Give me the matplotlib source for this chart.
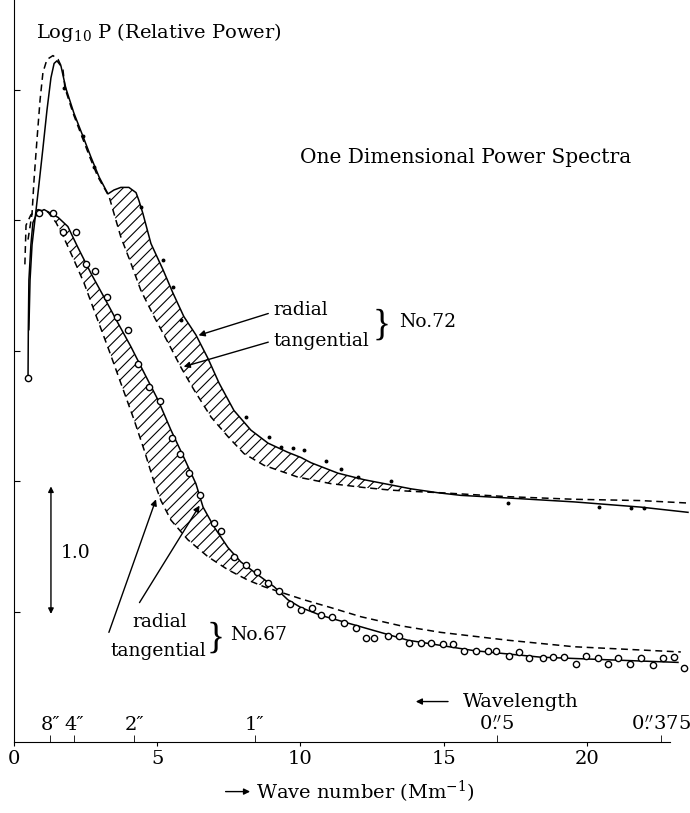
import numpy as np
import matplotlib
matplotlib.use('Agg')
import matplotlib.pyplot as plt

plt.rcParams['font.family'] = ['DejaVu Serif']
plt.rcParams['mathtext.fontset'] = 'dejavuserif'
plt.rcParams['hatch.linewidth'] = 0.8

# ---- No.72 ----
# radial (solid)
k72_rad = [0.52, 0.56, 0.63, 0.73, 0.87, 1.01, 1.15, 1.29, 1.40, 1.50, 1.64, 1.81,
           2.09, 2.41, 2.69, 2.97, 3.28, 3.49, 3.73, 4.01, 4.26, 4.36, 4.50, 4.78,
           5.20, 5.55, 5.93, 6.35, 6.77, 7.16, 7.68, 8.27, 8.87, 9.56, 10.02, 10.37,
           11.31, 12.22, 13.16, 13.86, 14.80, 15.60, 17.24, 19.55, 21.88, 23.53]
p72_rad = [3.16, 3.54, 3.81, 4.00, 4.27, 4.55, 4.84, 5.09, 5.20, 5.22, 5.18, 5.01,
           4.82, 4.64, 4.48, 4.33, 4.20, 4.23, 4.25, 4.25, 4.21, 4.15, 4.05, 3.82,
           3.62, 3.44, 3.26, 3.12, 2.94, 2.75, 2.54, 2.39, 2.29, 2.22, 2.18, 2.14,
           2.06, 2.01, 1.97, 1.94, 1.91, 1.89, 1.87, 1.84, 1.80, 1.76]
# radial points (small dots)
k72_pts = [1.75, 2.41, 2.79, 4.43, 5.20, 5.55, 5.83, 8.10, 8.90, 9.32, 9.74, 10.12,
           10.89, 11.41, 12.01, 13.16, 17.24, 20.42, 21.54, 21.99]
p72_pts = [5.01, 4.64, 4.41, 4.10, 3.69, 3.49, 3.23, 2.49, 2.34, 2.26, 2.25, 2.24,
           2.15, 2.09, 2.03, 2.00, 1.83, 1.80, 1.79, 1.79]
# tangential (dashed)
k72_tan = [0.49, 0.63, 0.70, 0.80, 0.91, 1.01, 1.15, 1.36, 1.54, 1.71, 1.78, 2.06,
           2.37, 2.65, 2.93, 3.32, 3.49, 3.73, 4.08, 4.43, 4.89, 5.38, 5.83, 6.28,
           6.88, 7.47, 8.03, 8.73, 9.91, 11.06, 12.22, 13.16, 13.96, 14.90, 17.24,
           19.55, 21.88, 23.63]
p72_tan = [3.85, 4.05, 4.31, 4.61, 4.92, 5.13, 5.23, 5.26, 5.23, 5.15, 5.01, 4.82,
           4.64, 4.48, 4.33, 4.18, 4.05, 3.87, 3.67, 3.46, 3.26, 3.06, 2.87, 2.70,
           2.49, 2.34, 2.21, 2.12, 2.03, 1.98, 1.95, 1.93, 1.92, 1.91, 1.88,
           1.86, 1.85, 1.83]

# ---- No.67 ----
# radial (solid line + open circles)
k67_rad = [0.49, 0.50, 0.52, 0.59, 0.66, 0.80, 1.05, 1.54, 1.88, 2.23, 2.69, 3.14,
           3.63, 4.08, 4.54, 5.03, 5.48, 5.93, 6.35, 6.60, 6.98, 7.47, 7.92, 8.52,
           9.08, 9.56, 10.02, 10.72, 11.52, 13.75, 16.06, 18.39, 20.73, 23.18]
p67_rad = [2.79, 3.16, 3.54, 3.81, 3.98, 4.05, 4.08, 4.02, 3.95, 3.79, 3.59, 3.41,
           3.21, 3.03, 2.83, 2.62, 2.39, 2.18, 1.98, 1.80, 1.65, 1.49, 1.38, 1.28,
           1.19, 1.09, 1.03, 0.97, 0.92, 0.78, 0.70, 0.65, 0.63, 0.61]
k67_pts = [0.49, 0.87, 1.36, 1.71, 2.16, 2.51, 2.83, 3.25, 3.60, 3.98, 4.33, 4.71,
           5.10, 5.51, 5.79, 6.11, 6.49, 6.98, 7.23, 7.68, 8.10, 8.48, 8.87, 9.25,
           9.63, 10.02, 10.40, 10.72, 11.10, 11.52, 11.94, 12.29, 12.57, 13.05, 13.44,
           13.79, 14.21, 14.55, 14.97, 15.32, 15.71, 16.13, 16.54, 16.82, 17.28, 17.63,
           17.98, 18.46, 18.81, 19.20, 19.62, 19.97, 20.38, 20.73, 21.08, 21.50, 21.88,
           22.30, 22.65, 23.04, 23.39]
p67_pts = [2.79, 4.05, 4.05, 3.91, 3.91, 3.66, 3.61, 3.41, 3.26, 3.16, 2.90, 2.72,
           2.61, 2.33, 2.21, 2.06, 1.89, 1.68, 1.62, 1.42, 1.36, 1.30, 1.22, 1.16,
           1.06, 1.01, 1.03, 0.97, 0.96, 0.91, 0.87, 0.80, 0.80, 0.81, 0.81,
           0.76, 0.76, 0.76, 0.75, 0.75, 0.70, 0.70, 0.70, 0.70, 0.66, 0.69,
           0.64, 0.64, 0.65, 0.65, 0.60, 0.66, 0.64, 0.60, 0.64, 0.60, 0.64,
           0.59, 0.64, 0.65, 0.57]
# tangential (dashed)
k67_tan = [0.38, 0.42, 0.59, 0.84, 1.19, 1.47, 1.75, 2.06, 2.44, 2.86, 3.32, 3.73,
           4.19, 4.54, 4.85, 5.13, 5.48, 6.07, 6.77, 7.47, 8.17, 8.73, 9.42, 10.12,
           11.06, 12.11, 13.51, 14.90, 17.24, 19.55, 23.28]
p67_tan = [3.66, 3.96, 4.04, 4.08, 4.06, 3.98, 3.86, 3.71, 3.52, 3.27, 3.00, 2.75,
           2.47, 2.24, 2.02, 1.85, 1.70, 1.55, 1.42, 1.32, 1.24, 1.19, 1.14, 1.09,
           1.03, 0.96, 0.89, 0.84, 0.78, 0.73, 0.69]

# wavelength scale (arcsec) marked along the wave-number axis
wave_k = [1.26, 2.09, 4.19, 8.41, 16.86, 22.58]
wave_lbl = ['8″', '4″', '2″', '1″', r'0$\overset{\prime\prime}{.}$5', r'0$\overset{\prime\prime}{.}$375']

fig = plt.figure(figsize=(6.9, 8.13), dpi=100)
ax = fig.add_axes([14/690, 71/813, 676/690, 742/813])
ax.set_xlim(0, 23.6)
ax.set_ylim(0, 5.686)

dash = (4.5, 3)


def band(ax, ka, pa, kb, pb, k0, k1):
    g = np.linspace(k0, k1, 400)
    a = np.interp(g, ka, pa)
    b = np.interp(g, kb, pb)
    ax.fill_between(g, a, b, facecolor='none', edgecolor='black',
                    hatch='///', linewidth=0)


band(ax, k72_rad, p72_rad, k72_tan, p72_tan, 3.3, 14.5)
band(ax, k67_rad, p67_rad, k67_tan, p67_tan, 1.2, 9.3)

ax.plot(k72_rad, p72_rad, color='black', lw=1.1)
ax.plot(k72_tan, p72_tan, color='black', lw=1.1, dashes=dash)
ax.plot(k72_pts, p72_pts, ls='none', marker='o', ms=1.8, color='black')

ax.plot(k67_rad, p67_rad, color='black', lw=1.1)
ax.plot(k67_tan, p67_tan, color='black', lw=1.1, dashes=dash)
ax.plot(k67_pts, p67_pts, ls='none', marker='o', ms=4.5, mfc='white',
        mec='black', mew=1.0)

# axes styling
for s in ['top', 'right']:
    ax.spines[s].set_visible(False)
ax.spines['bottom'].set_bounds(0, 22.9)
ax.set_yticks([1, 2, 3, 4, 5])
ax.tick_params(axis='y', direction='in', length=4, labelleft=False)
ax.set_xticks([0, 5, 10, 15, 20])
ax.tick_params(axis='x', direction='out', length=3, pad=3, labelsize=14)
ax.set_xticks(wave_k, minor=True)
ax.tick_params(axis='x', which='minor', direction='in', length=5)
for k, lab in zip(wave_k, wave_lbl):
    ax.text(k, 0.06, lab, ha='center', va='bottom', fontsize=14)

# texts
ax.text(0.77, 5.44, r'Log$_{10}$ P (Relative Power)', fontsize=14, va='center')
ax.text(10.0, 4.48, 'One Dimensional Power Spectra', fontsize=14.5, va='center')

arw = dict(arrowstyle='-|>', lw=1.0, color='black', mutation_scale=9)
ax.text(9.07, 3.31, 'radial', fontsize=13.5, va='center')
ax.text(9.07, 3.07, 'tangential', fontsize=13.5, va='center')
ax.annotate('', xy=(6.35, 3.11), xytext=(8.97, 3.29), arrowprops=arw)
ax.annotate('', xy=(5.83, 2.87), xytext=(8.97, 3.07), arrowprops=arw)
ax.text(12.82, 3.19, '}', fontsize=27, va='center', ha='center',
        family='Liberation Serif')
ax.text(13.45, 3.22, 'No.72', fontsize=13.5, va='center')

ax.text(5.10, 0.92, 'radial', fontsize=13.5, va='center', ha='center')
ax.text(5.03, 0.70, 'tangential', fontsize=13.5, va='center', ha='center')
ax.annotate('', xy=(4.99, 1.88), xytext=(3.28, 0.82), arrowprops=arw)
ax.annotate('', xy=(6.53, 1.83), xytext=(4.33, 1.05), arrowprops=arw)
ax.text(7.02, 0.79, '}', fontsize=27, va='center', ha='center',
        family='Liberation Serif')
ax.text(7.55, 0.82, 'No.67', fontsize=13.5, va='center')

# scale bar for one decade
ax.annotate('', xy=(1.29, 1.98), xytext=(1.29, 0.96),
            arrowprops=dict(arrowstyle='<|-|>', lw=1.0, color='black', mutation_scale=8))
ax.text(1.64, 1.45, '1.0', fontsize=13.5, va='center')

# wavelength direction
ax.annotate('', xy=(13.93, 0.31), xytext=(15.25, 0.31), arrowprops=arw)
ax.text(15.67, 0.31, 'Wavelength', fontsize=14, va='center')

# x label with arrow
ax.annotate('', xy=(8.34, -0.38), xytext=(7.29, -0.38), arrowprops=arw,
            annotation_clip=False)
ax.text(8.45, -0.38, 'Wave number (Mm$^{-1}$)', fontsize=14, va='center')

fig.savefig('out.png', dpi=100)
